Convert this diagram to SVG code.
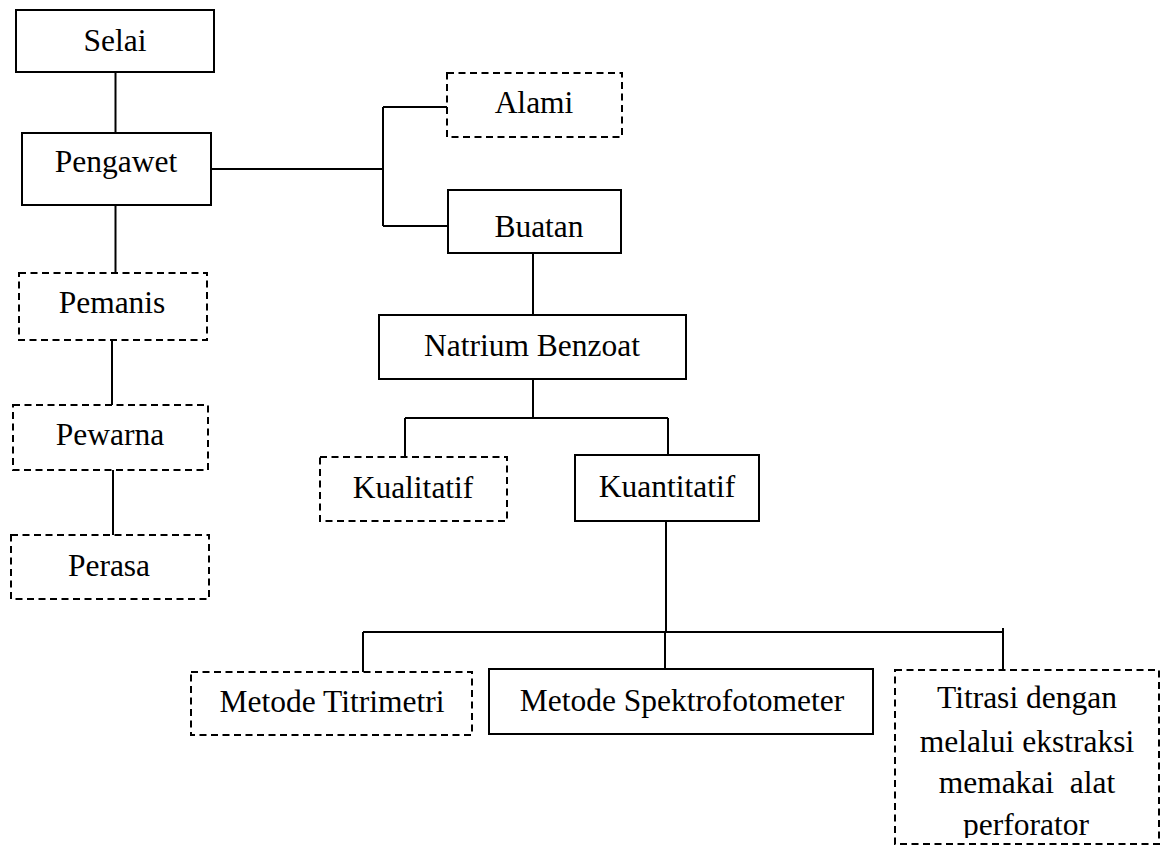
<svg xmlns="http://www.w3.org/2000/svg" width="1165" height="851" viewBox="0 0 1165 851">
<style>
.b{fill:#fff;stroke:#000;stroke-width:2}
.d{fill:#fff;stroke:#000;stroke-width:2;stroke-dasharray:7 4.5}
.t{font-family:"Liberation Serif","Times New Roman",serif;font-size:31.5px;fill:#000;text-anchor:middle}
.c{fill:none;stroke:#000;stroke-width:2}
</style>
<defs>
<clipPath id="clipT"><rect x="895" y="670" width="263" height="168"/></clipPath>
</defs>
<rect width="1165" height="851" fill="#fff"/>
<g id="connectors">
<path class="c" d="M115.5 72V133"/>
<path class="c" d="M115.5 205V273"/>
<path class="c" d="M112 340V405"/>
<path class="c" d="M113 470V535"/>
<path class="c" d="M211 169H383M383 107V226M383 107H447M383 226H448"/>
<path class="c" d="M533 253V315"/>
<path class="c" d="M533 379V418M405 418H668M405 418V457M668 418V455"/>
<path class="c" d="M666 521V632M363 632H1003M363 632V672M665 632V669M1003 628V670"/>
</g>
<g id="selai"><rect class="b" x="16" y="10" width="198" height="62"/><text class="t" x="115" y="51">Selai</text></g>
<g id="pengawet"><rect class="b" x="22" y="133" width="189" height="72"/><text class="t" x="116" y="172">Pengawet</text></g>
<g id="pemanis"><rect class="d" x="19" y="273" width="188" height="67"/><text class="t" x="112" y="313">Pemanis</text></g>
<g id="pewarna"><rect class="d" x="13" y="405" width="195" height="65"/><text class="t" x="110" y="445">Pewarna</text></g>
<g id="perasa"><rect class="d" x="11" y="535" width="198" height="64"/><text class="t" x="109" y="576">Perasa</text></g>
<g id="alami"><rect class="d" x="447" y="73" width="175" height="64"/><text class="t" x="534" y="113">Alami</text></g>
<g id="buatan"><rect class="b" x="448" y="190" width="173" height="63"/><text class="t" x="539" y="237">Buatan</text></g>
<g id="natrium"><rect class="b" x="379" y="315" width="307" height="64"/><text class="t" x="532" y="356">Natrium Benzoat</text></g>
<g id="kualitatif"><rect class="d" x="320" y="457" width="187" height="64"/><text class="t" x="413" y="498">Kualitatif</text></g>
<g id="kuantitatif"><rect class="b" x="575" y="455" width="184" height="66"/><text class="t" x="667" y="497">Kuantitatif</text></g>
<g id="titrimetri"><rect class="d" x="191" y="672" width="281" height="63"/><text class="t" x="332" y="712">Metode Titrimetri</text></g>
<g id="spektro"><rect class="b" x="489" y="669" width="384" height="65"/><text class="t" x="682" y="711">Metode Spektrofotometer</text></g>
<g id="titrasi"><rect class="d" x="895" y="670" width="264" height="174"/>
<g clip-path="url(#clipT)">
<text class="t" x="1027" y="708">Titrasi dengan</text>
<text class="t" x="1027" y="752">melalui ekstraksi</text>
<text class="t" x="1027" y="793" xml:space="preserve">memakai  alat</text>
<text class="t" x="1026" y="835">perforator</text>
</g></g>
</svg>
